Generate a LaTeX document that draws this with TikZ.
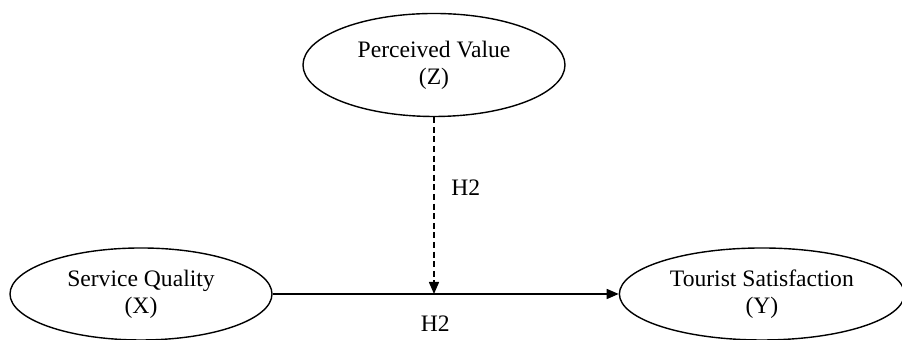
\documentclass[tikz,border=0pt]{standalone}
\usepackage{fontspec}
\setmainfont{Liberation Serif}
\usepackage{tikz}
\usetikzlibrary{arrows.meta,positioning,shapes.geometric}

\begin{document}
\begin{tikzpicture}[
  construct/.style={ellipse, draw, line width=0.7pt, align=center, inner sep=1pt,
                    font=\fontsize{11.8}{13.5}\selectfont},
  effect/.style={-{Triangle[length=6pt,width=5pt]}, line width=0.75pt},
  moderate/.style={-{Triangle[length=6pt,width=5pt]}, line width=0.75pt,
                   dash pattern=on 3pt off 1.8pt},
  hyp/.style={font=\fontsize{11.8}{13.5}\selectfont},
]
\useasboundingbox (0,0) rectangle (451pt,170pt);

\node[construct, minimum width=131pt, minimum height=51.5pt] (pv) at (217pt,137.5pt)
  {Perceived Value\\(Z)};
\node[construct, minimum width=131pt, minimum height=46pt] (sq) at (70.5pt,23pt)
  {Service Quality\\(X)};
\node[construct, minimum width=142.5pt, minimum height=46pt, right=173pt of sq] (ts)
  {Tourist Satisfaction\\(Y)};

\draw[effect] (sq) -- (ts) node[hyp, pos=0.47, below=7pt] {H2};
\draw[moderate] (pv) -- (pv |- sq.east) node[hyp, pos=0.4, right=5pt] {H2};

\end{tikzpicture}
\end{document}
